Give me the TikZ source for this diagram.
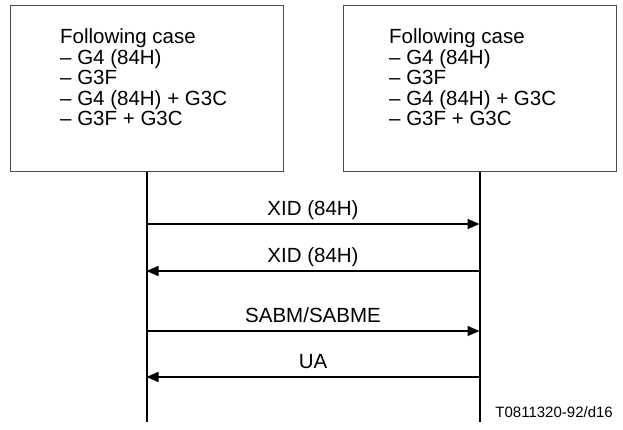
\documentclass[tikz,border=0pt]{standalone}
\usepackage{fontspec}
\setmainfont{Liberation Sans}
\usetikzlibrary{arrows.meta}

\tikzset{
  station/.style={draw=black!70, line width=1pt, minimum width=273pt, minimum height=166pt, inner sep=0pt},
  caselist/.style={align=left, anchor=north west, inner sep=0pt, font=\fontsize{20.5}{20.5}\selectfont},
  lifeline/.style={line width=2pt},
  msg/.style={line width=1.8pt},
  msglabel/.style={above, inner sep=0pt, yshift=7.5pt, text depth=0pt, font=\fontsize{20.5}{20.5}\selectfont},
}

\begin{document}
\begin{tikzpicture}[x=1pt, y=-1pt, >={Triangle[length=12pt,width=10pt]}]
\useasboundingbox (0,0) rectangle (623,430);

% the two stations
\node[station] (stnA) at (146.5,89) {};
\node[station] (stnB) at (479.5,89) {};
\node[caselist] (caseA) at (60,28.5) {Following case\\-- G4 (84H)\\-- G3F\\-- G4 (84H) + G3C\\-- G3F + G3C};
\node[caselist] (caseB) at (389,28.5) {Following case\\-- G4 (84H)\\-- G3F\\-- G4 (84H) + G3C\\-- G3F + G3C};

% lifelines
\coordinate (endA) at (146.5,422);
\coordinate (endB) at (479.5,422);
\draw[lifeline] (stnA.south) -- (endA);
\draw[lifeline] (stnB.south) -- (endB);

% messages
\draw[msg,->] (stnA.south |- 0,224) -- node[msglabel] {XID (84H)} (stnB.south |- 0,224);
\draw[msg,<-] (stnA.south |- 0,271) -- node[msglabel] {XID (84H)} (stnB.south |- 0,271);
\draw[msg,->] (stnA.south |- 0,331) -- node[msglabel] {SABM/SABME} (stnB.south |- 0,331);
\draw[msg,<-] (stnA.south |- 0,377) -- node[msglabel] {UA} (stnB.south |- 0,377);

\node[font=\fontsize{15}{15}\selectfont, anchor=base east, inner sep=0pt] (figId) at (613,417) {T0811320-92/d16};
\end{tikzpicture}
\end{document}
